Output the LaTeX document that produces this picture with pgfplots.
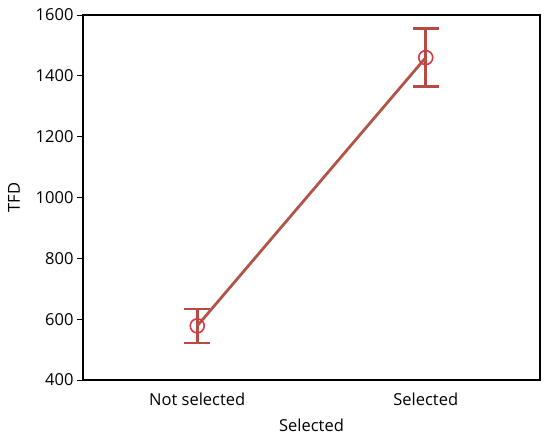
\documentclass[border=0pt]{standalone}
\usepackage{fontspec}
\setmainfont{Open Sans}
\usepackage{pgfplots}
\pgfplotsset{compat=1.18}
\definecolor{LineBrown}{RGB}{178,84,72}
\definecolor{BarBrown}{RGB}{184,74,68}
\definecolor{MarkRed}{RGB}{214,58,70}
\begin{document}
\begin{tikzpicture}
\begin{axis}[
    width=457pt, height=365pt, scale only axis,
    clip=false,
    xmin=-0.5, xmax=1.5,
    ymin=400, ymax=1600,
    xtick={0,1},
    xticklabels={Not selected, Selected},
    ytick={400,600,...,1600},
    xlabel={Selected}, ylabel={TFD},
    font=\fontsize{16.5}{19}\selectfont,
    /pgf/number format/assume math mode=true,
    /pgf/number format/1000 sep={},
    axis line style={line width=2pt, black},
    tick style={line width=1pt, black},
    x tick style={draw=none},
    ytick pos=left,
    tick align=outside,
    major tick length=6pt,
    axis lines*=box,
    xticklabel style={yshift=-3pt},
    ylabel style={at={(axis description cs:-0.151,0.5)}, anchor=center},
    xlabel style={at={(axis description cs:0.5,-0.123)}, anchor=center},
]
\addplot[draw=none, mark=none,
    error bars/.cd, y dir=both, y explicit,
    error bar style={line width=2.6pt, BarBrown},
    error mark options={rotate=90, mark size=13pt, line width=2.6pt, BarBrown}]
    coordinates {(0,578) +- (0,56) (1,1460) +- (0,95)};
\addplot[line width=2.8pt, LineBrown, mark=none]
    coordinates {(0,578) (1,1460)};
\addplot[only marks, mark=o, mark size=7pt, mark options={line width=1.6pt, MarkRed}]
    coordinates {(0,578) (1,1460)};
\path (axis description cs:-0.1816,-0.1616) coordinate (bl)
      (axis description cs:1.0219,1.0411) coordinate (tr);
\end{axis}
\end{tikzpicture}
\end{document}
